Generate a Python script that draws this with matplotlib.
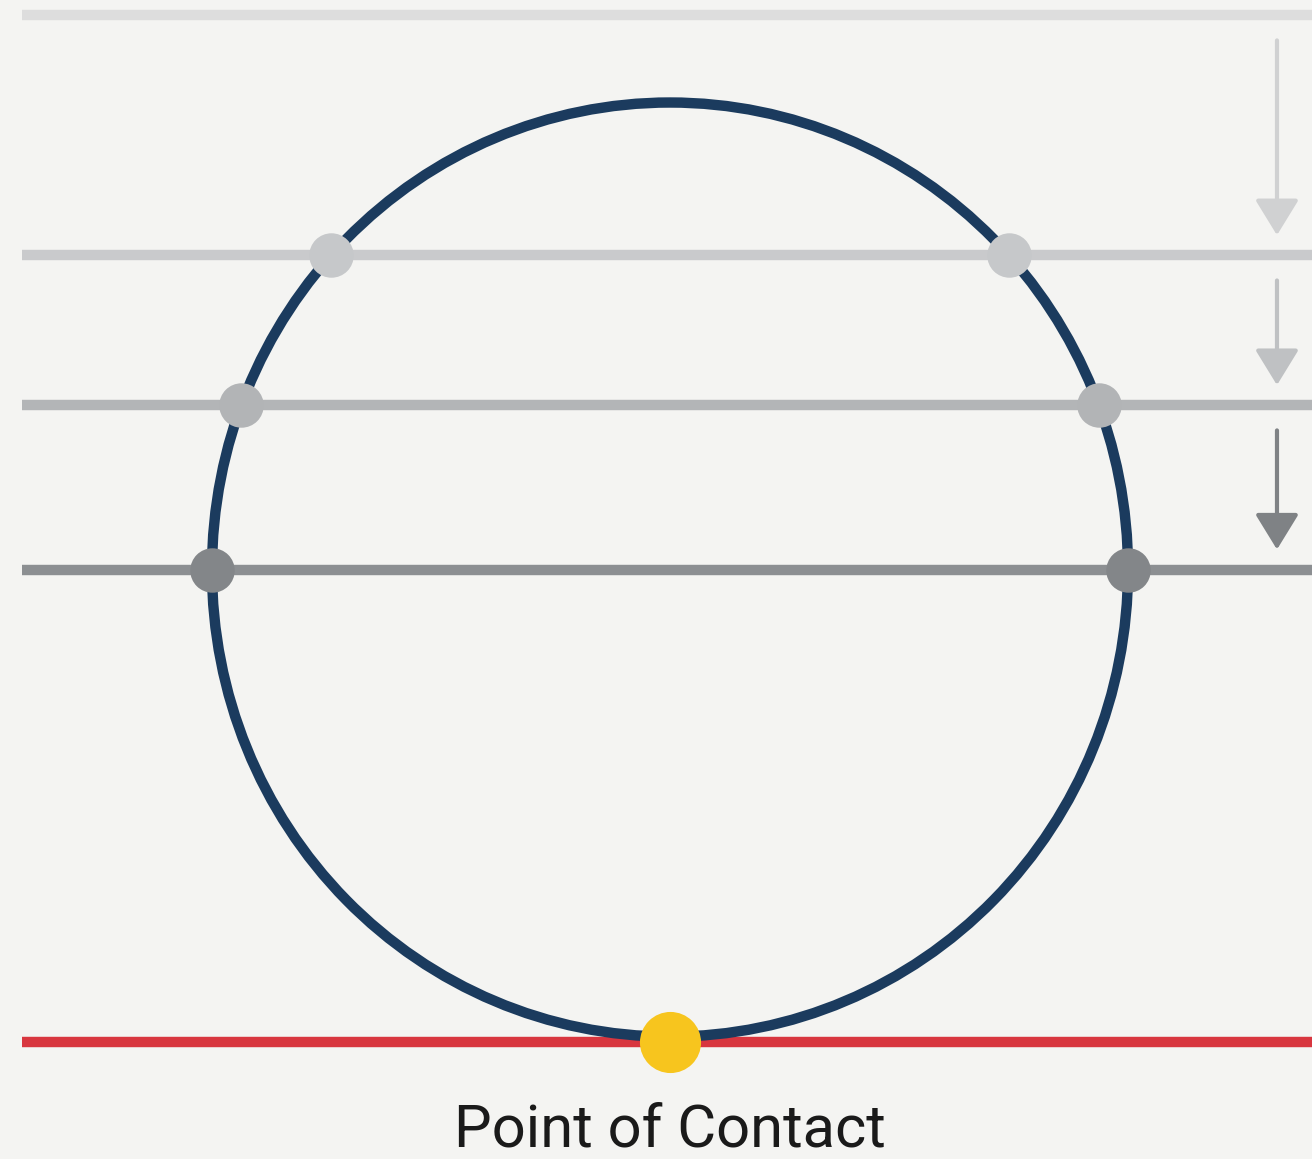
import matplotlib.pyplot as plt
from matplotlib.patches import Ellipse
import numpy as np

# Heights of the falling line (unit = circle radius), top to bottom
levels = [1.187, 0.673, 0.352, 0.0]
line_colors = ['#dddddd', '#c9cacc', '#b3b5b7', '#8c8f92']
dot_colors = [None, '#c6c8ca', '#b2b4b6', '#838689']
arrow_colors = ['#d0d1d2', '#bfc1c3', '#7f8285']
tangent_y = -1.012
circle_a = 0.981  # horizontal semi-axis
label = 'Point of Contact'

fig = plt.figure(figsize=(13.12, 11.59), dpi=100, facecolor='#f4f4f2')
ax = fig.add_axes([0, 0, 1, 1])
ax.set_facecolor('#f4f4f2')
ax.set_xlim(-1.435, 1.375)
ax.set_ylim(-1.262, 1.2195)
ax.axis('off')

x0, x1 = -1.388, 1.40

# horizontal lines
for y, c in zip(levels, line_colors):
    ax.plot([x0, x1], [y, y], color=c, lw=7.5, solid_capstyle='butt', zorder=1)
ax.plot([x0, x1], [tangent_y, tangent_y], color='#d8363f', lw=7.5,
        solid_capstyle='butt', zorder=1)

# the circle
ax.add_patch(Ellipse((0, 0), 2 * circle_a, 2, fill=False, ec='#1b3b5e',
                     lw=7.5, zorder=2))

# intersection points
for y, c in zip(levels[1:], dot_colors[1:]):
    xi = circle_a * np.sqrt(1 - y ** 2)
    ax.plot([-xi, xi], [y, y], 'o', color=c, ms=32, mec='none', zorder=3)

# point of contact
ax.plot([0], [tangent_y], 'o', color='#f7c51e', ms=44, mec='none', zorder=4)

# arrows on the right
ax_x = 1.300
for i, c in enumerate(arrow_colors):
    start = levels[i] - 0.054
    end = levels[i + 1] + 0.043
    ax.annotate('', xy=(ax_x, end), xytext=(ax_x, start),
                arrowprops=dict(arrowstyle='-|>,head_length=2.2,head_width=1.35',
                                color=c, lw=3, shrinkA=0, shrinkB=0),
                zorder=2)

ax.text(0, -1.235, label, ha='center', va='baseline', fontsize=43,
        family='Roboto', color='#1a1a1a')

fig.savefig('out.png', dpi=100, facecolor=fig.get_facecolor())
